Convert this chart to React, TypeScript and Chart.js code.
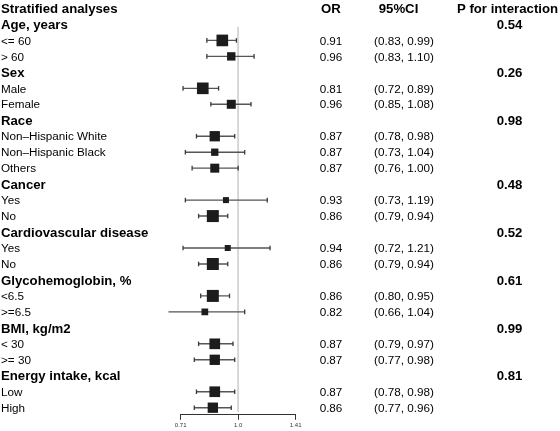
import React, { useEffect, useRef } from "react";
import { Chart, registerables } from "chart.js";

Chart.register(...registerables);

// ---- data ----
const columnHeaders = ["Stratified analyses", "OR", "95%CI", "P for interaction"];

const rowLabels = [
  "Age, years", "<= 60", "> 60",
  "Sex", "Male", "Female",
  "Race", "Non\u2013Hispanic White", "Non\u2013Hispanic Black", "Others",
  "Cancer", "Yes", "No",
  "Cardiovascular disease", "Yes", "No",
  "Glycohemoglobin, %", "<6.5", ">=6.5",
  "BMI, kg/m2", "< 30", ">= 30",
  "Energy intake, kcal", "Low", "High",
];

const isGroupRow = [
  true, false, false,
  true, false, false,
  true, false, false, false,
  true, false, false,
  true, false, false,
  true, false, false,
  true, false, false,
  true, false, false,
];

const orValues = [
  null, 0.91, 0.96,
  null, 0.81, 0.96,
  null, 0.87, 0.87, 0.87,
  null, 0.93, 0.86,
  null, 0.94, 0.86,
  null, 0.86, 0.82,
  null, 0.87, 0.87,
  null, 0.87, 0.86,
];

const ciLow = [
  null, 0.83, 0.83,
  null, 0.72, 0.85,
  null, 0.78, 0.73, 0.76,
  null, 0.73, 0.79,
  null, 0.72, 0.79,
  null, 0.80, 0.66,
  null, 0.79, 0.77,
  null, 0.78, 0.77,
];

const ciHigh = [
  null, 0.99, 1.10,
  null, 0.89, 1.08,
  null, 0.98, 1.04, 1.00,
  null, 1.19, 0.94,
  null, 1.21, 0.94,
  null, 0.95, 1.04,
  null, 0.97, 0.98,
  null, 0.98, 0.96,
];

// relative weight of each estimate (box size)
const boxWeight = [
  0, 0.97, 0.70,
  0, 0.97, 0.75,
  0, 0.86, 0.61, 0.75,
  0, 0.50, 1.0,
  0, 0.50, 1.0,
  0, 1.0, 0.56,
  0, 0.89, 0.86,
  0, 0.89, 0.86,
];

const pInteraction = [
  "0.54", "", "",
  "0.26", "", "",
  "0.98", "", "", "",
  "0.48", "", "",
  "0.52", "", "",
  "0.61", "", "",
  "0.99", "", "",
  "0.81", "", "",
];

const xTicks = [0.71, 1.0, 1.41];
const xTickLabels = ["0.71", "1.0", "1.41"];

// ---- layout/style ----
const FONT = "'Liberation Sans', Arial, Helvetica, sans-serif";
const REG = 11.7;
const BOLD = 13.2;
const MAX_BOX = 12;

export default function App() {
  const ref = useRef<HTMLCanvasElement | null>(null);

  useEffect(() => {
    if (!ref.current) return;

    const squares: any[] = [];
    const squareRadius: number[] = [];
    const whiskers: any[] = [];
    const caps: any[] = [];
    rowLabels.forEach((_, i) => {
      const y = i + 1;
      const or = orValues[i];
      const lo = ciLow[i];
      const hi = ciHigh[i];
      if (or == null || lo == null || hi == null) return;
      squares.push({ x: or, y });
      squareRadius.push((boxWeight[i] * MAX_BOX) / Math.SQRT2);
      whiskers.push({ x: lo, y }, { x: hi, y }, { x: null, y: null });
      caps.push({ x: lo, y }, { x: hi, y });
    });

    const textPlugin = {
      id: "forestText",
      afterDraw(chart: any) {
        const ctx = chart.ctx;
        const ys = chart.scales.y;
        ctx.save();
        ctx.fillStyle = "#000";
        ctx.textBaseline = "alphabetic";
        const base = (row: number, size: number) => ys.getPixelForValue(row) + size * 0.716 / 2;

        // headers
        ctx.font = `bold ${BOLD}px ${FONT}`;
        ctx.textAlign = "left";
        ctx.fillText(columnHeaders[0], 1, base(0, BOLD));
        ctx.textAlign = "center";
        ctx.fillText(columnHeaders[1], 331, base(0, BOLD));
        ctx.fillText(columnHeaders[2], 398.5, base(0, BOLD));
        ctx.fillText(columnHeaders[3], 507.5, base(0, BOLD));

        rowLabels.forEach((lab, i) => {
          const row = i + 1;
          if (isGroupRow[i]) {
            ctx.font = `bold ${BOLD}px ${FONT}`;
            ctx.textAlign = "left";
            ctx.fillText(lab, 1, base(row, BOLD));
            if (pInteraction[i]) {
              ctx.textAlign = "center";
              ctx.fillText(pInteraction[i], 509.5, base(row, BOLD));
            }
          } else {
            ctx.font = `${REG}px ${FONT}`;
            ctx.textAlign = "left";
            ctx.fillText(lab, 1, base(row, REG));
            const or = orValues[i];
            const lo = ciLow[i];
            const hi = ciHigh[i];
            if (or != null && lo != null && hi != null) {
              ctx.textAlign = "center";
              ctx.fillText(or.toFixed(2), 331, base(row, REG));
              ctx.fillText(`(${lo.toFixed(2)}, ${hi.toFixed(2)})`, 404, base(row, REG));
            }
          }
        });
        ctx.restore();
      },
    };

    const chart = new Chart(ref.current, {
      type: "scatter",
      data: {
        datasets: [
          {
            data: squares,
            pointStyle: "rect",
            pointRadius: squareRadius,
            pointHoverRadius: squareRadius,
            backgroundColor: "#1c1c1c",
            borderWidth: 0,
            pointBorderWidth: 0,
            clip: false,
            order: 0,
          } as any,
          {
            data: caps,
            pointStyle: "line",
            rotation: 90,
            pointRadius: 2.3,
            borderColor: "#3a3a3a",
            borderWidth: 1.3,
            clip: false,
            order: 1,
          } as any,
          {
            data: whiskers,
            showLine: true,
            spanGaps: false,
            pointRadius: 0,
            borderColor: "#555",
            borderWidth: 1.4,
            clip: false,
            order: 2,
          } as any,
          {
            data: [{ x: 1, y: 1.15 }, { x: 1, y: 25.27 }],
            showLine: true,
            pointRadius: 0,
            borderColor: "#d2d2d2",
            borderWidth: 1,
            clip: false,
            order: 3,
          } as any,
        ],
      },
      options: {
        responsive: false,
        animation: false,
        events: [],
        layout: { padding: { left: 180.7, right: 264.3, top: 5.36, bottom: 0 } },
        plugins: { legend: { display: false }, tooltip: { enabled: false } },
        scales: {
          x: {
            type: "logarithmic",
            min: 0.71,
            max: 1.41,
            bounds: "data",
            position: "bottom",
            afterBuildTicks: (s: any) => {
              s.ticks = xTicks.map((v) => ({ value: v }));
            },
            grid: {
              display: true,
              drawOnChartArea: false,
              drawTicks: true,
              tickLength: 5,
              color: "#333",
              lineWidth: 1,
            },
            border: { display: true, color: "#333", width: 1 },
            ticks: {
              font: { size: 6, family: FONT },
              color: "#333",
              padding: 2,
              maxRotation: 0,
              autoSkip: false,
              callback: (_v: any, i: number) => xTickLabels[i],
            },
          },
          y: {
            type: "linear",
            display: false,
            reverse: true,
            min: 0,
            max: 25.445,
          },
        },
      } as any,
      plugins: [textPlugin],
    });

    return () => chart.destroy();
  }, []);

  return (
    <div style={{ position: "absolute", left: 0, top: 0, width: 560, height: 431 }}>
      <canvas ref={ref} width={560} height={431} style={{ display: "block" }} />
    </div>
  );
}
